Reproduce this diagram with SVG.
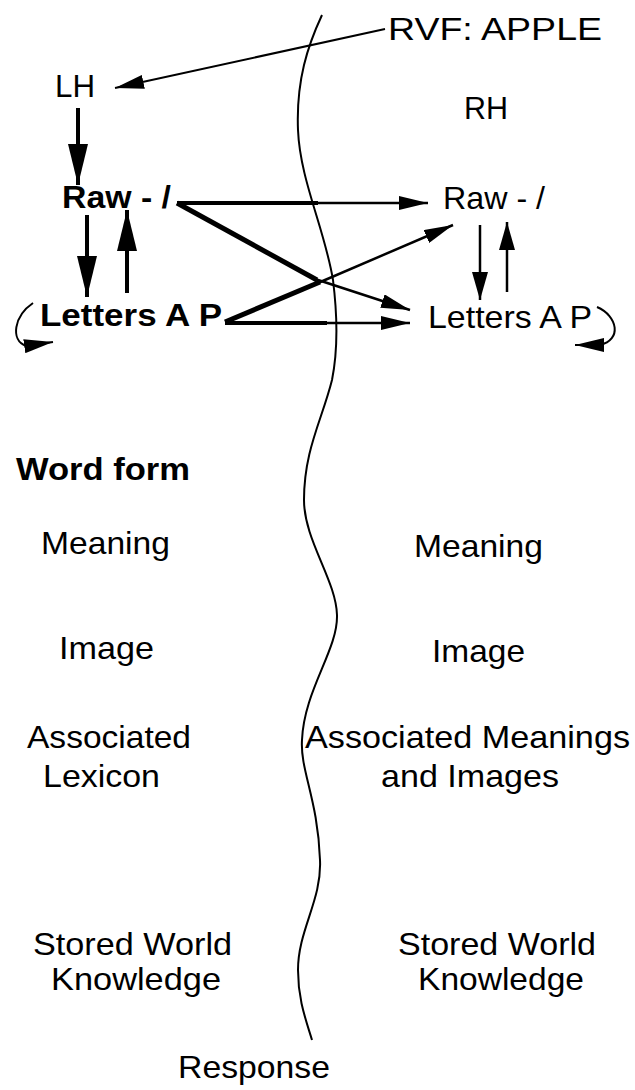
<svg xmlns="http://www.w3.org/2000/svg" width="635" height="1090" viewBox="0 0 635 1090">
<style>
text{font-family:"Liberation Sans",Arial,Helvetica,sans-serif;font-size:32px;fill:#000}
.b{font-weight:bold}
.ln{stroke:#000;fill:none;stroke-linecap:butt}
.w2{stroke-width:2}
.w25{stroke-width:2.5}
.w4{stroke-width:4}
.w5{stroke-width:5}
</style>
<defs>
<marker id="hBig" markerUnits="userSpaceOnUse" markerWidth="42" markerHeight="20" refX="41" refY="10" orient="auto"><path d="M0,0 L41,10 L0,20 z" fill="#000"/></marker>
<marker id="hMed" markerUnits="userSpaceOnUse" markerWidth="30" markerHeight="14" refX="29" refY="7" orient="auto"><path d="M0,0 L29,7 L0,14 z" fill="#000"/></marker>
<marker id="hSm" markerUnits="userSpaceOnUse" markerWidth="29" markerHeight="16" refX="28" refY="8" orient="auto"><path d="M0,0 L28,8 L0,16 z" fill="#000"/></marker>
</defs>
<rect width="635" height="1090" fill="#fff"/>
<g id="divider"><path class="ln w2" d="M322,15 C308,45 296,80 298,130 C300,180 325,230 333,280 C338,320 338,350 332,380 C322,420 304,450 304,500 C304,540 336,580 337,615 C338,650 304,690 302,740 C300,770 318,800 320,860 C322,900 298,930 298,970 C298,1000 306,1020 312,1040"/></g>
<g id="n-rvf"><text x="388" y="40" textLength="214" lengthAdjust="spacingAndGlyphs">RVF: APPLE</text></g>
<g id="n-lh"><text x="55" y="97" textLength="40" lengthAdjust="spacingAndGlyphs">LH</text></g>
<g id="n-rh"><text x="464" y="119" textLength="44" lengthAdjust="spacingAndGlyphs">RH</text></g>
<g id="n-raw-l"><text class="b" x="62" y="208" textLength="109" lengthAdjust="spacingAndGlyphs">Raw - /</text></g>
<g id="n-raw-r"><text x="443" y="209" textLength="102" lengthAdjust="spacingAndGlyphs">Raw - /</text></g>
<g id="n-letters-l"><text class="b" x="40" y="326" textLength="182" lengthAdjust="spacingAndGlyphs">Letters A P</text></g>
<g id="n-letters-r"><text x="428" y="328" textLength="164" lengthAdjust="spacingAndGlyphs">Letters A P</text></g>
<g id="n-wordform"><text class="b" x="16" y="480" textLength="174" lengthAdjust="spacingAndGlyphs">Word form</text></g>
<g id="n-meaning-l"><text x="41" y="554" textLength="129" lengthAdjust="spacingAndGlyphs">Meaning</text></g>
<g id="n-meaning-r"><text x="414" y="557" textLength="129" lengthAdjust="spacingAndGlyphs">Meaning</text></g>
<g id="n-image-l"><text x="59" y="659" textLength="95" lengthAdjust="spacingAndGlyphs">Image</text></g>
<g id="n-image-r"><text x="432" y="662" textLength="93" lengthAdjust="spacingAndGlyphs">Image</text></g>
<g id="n-assoc-l"><text x="27" y="748" textLength="164" lengthAdjust="spacingAndGlyphs">Associated</text><text x="43" y="787" textLength="117" lengthAdjust="spacingAndGlyphs">Lexicon</text></g>
<g id="n-assoc-r"><text x="305" y="748" textLength="325" lengthAdjust="spacingAndGlyphs">Associated Meanings</text><text x="381" y="787" textLength="178" lengthAdjust="spacingAndGlyphs">and Images</text></g>
<g id="n-stored-l"><text x="33" y="955" textLength="199" lengthAdjust="spacingAndGlyphs">Stored World</text><text x="51" y="990" textLength="170" lengthAdjust="spacingAndGlyphs">Knowledge</text></g>
<g id="n-stored-r"><text x="398" y="955" textLength="198" lengthAdjust="spacingAndGlyphs">Stored World</text><text x="418" y="990" textLength="166" lengthAdjust="spacingAndGlyphs">Knowledge</text></g>
<g id="n-response"><text x="178" y="1078" textLength="152" lengthAdjust="spacingAndGlyphs">Response</text></g>
<g id="connectors">
<line class="ln w2" x1="385" y1="29" x2="115" y2="88" marker-end="url(#hMed)"/>
<line class="ln w4" x1="78" y1="108" x2="78" y2="185" marker-end="url(#hBig)"/>
<line class="ln w4" x1="87" y1="215" x2="87" y2="297" marker-end="url(#hBig)"/>
<line class="ln w4" x1="127" y1="293" x2="127" y2="210" marker-end="url(#hBig)"/>
<line class="ln w4" x1="177" y1="203" x2="318" y2="203"/>
<line class="ln w25" x1="316" y1="203" x2="428" y2="203" marker-end="url(#hMed)"/>
<line class="ln w5" x1="177" y1="203" x2="317" y2="280"/>
<line class="ln w25" x1="315" y1="279" x2="410" y2="310" marker-end="url(#hMed)"/>
<line class="ln w5" x1="225" y1="322" x2="320" y2="282"/>
<line class="ln w25" x1="318" y1="283" x2="453" y2="225" marker-end="url(#hMed)"/>
<line class="ln w4" x1="225" y1="323" x2="327" y2="323"/>
<line class="ln w25" x1="325" y1="323" x2="410" y2="323" marker-end="url(#hMed)"/>
<line class="ln w25" x1="480" y1="225" x2="480" y2="300" marker-end="url(#hSm)"/>
<line class="ln w25" x1="507" y1="292" x2="507" y2="222" marker-end="url(#hSm)"/>
<path class="ln w2" d="M33,303 C14,316 10,340 26,346 L53,342" marker-end="url(#hMed)"/>
<path class="ln w2" d="M597,307 C618,316 622,340 600,345 L575,345" marker-end="url(#hMed)"/>
</g>
</svg>
